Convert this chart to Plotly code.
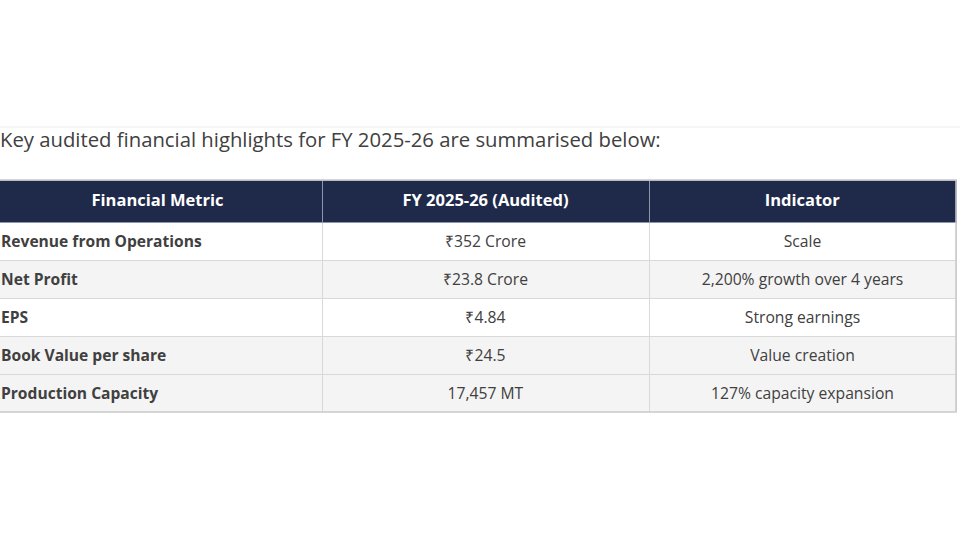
import plotly.graph_objects as go

# Table content
intro_text = "Key audited financial highlights for FY 2025-26 are summarised below:"
headers = ["Financial Metric", "FY 2025-26 (Audited)", "Indicator"]
metrics = [
    "Revenue from Operations",
    "Net Profit",
    "EPS",
    "Book Value per share",
    "Production Capacity",
]
fy_values = ["₹352 Crore", "₹23.8 Crore", "₹4.84", "₹24.5", "17,457 MT"]
indicators = [
    "Scale",
    "2,200% growth over 4 years",
    "Strong earnings",
    "Value creation",
    "127% capacity expansion",
]

FONT = "Open Sans"
HEADER_BG = "#1f2a4b"
TEXT = "#404040"
row_fill = ["#ffffff", "#f4f4f4", "#ffffff", "#f4f4f4", "#f4f4f4"]

SHIFT = 7         # figure is shifted left so the table's left edge is cropped like the source
W, H = 960 + SHIFT, 560
T_LEFT, T_RIGHT, T_TOP, T_BOT = 0, 956 + SHIFT, 180, 412

fig = go.Figure(
    go.Table(
        domain=dict(x=[T_LEFT / W, T_RIGHT / W], y=[1 - T_BOT / H, 1 - T_TOP / H]),
        columnwidth=[322 + SHIFT, 327, 307],
        header=dict(
            values=[f"<b>{h}</b>" for h in headers],
            fill_color=HEADER_BG,
            line=dict(color="#8e96ad", width=1),
            align="center",
            font=dict(family=FONT, size=16.5, color="white"),
            height=42,
        ),
        cells=dict(
            values=[[f"<b>{m}</b>" for m in metrics],
                    [f"<span>{v}</span>" for v in fy_values],
                    [f"<span>{v}</span>" for v in indicators]],
            fill_color=[row_fill] * 3,
            line=dict(color="#d9d9d9", width=1),
            align=["left", "center", "center"],
            font=dict(family=FONT, size=[15.6, 15.7, 15.7], color=TEXT),
            height=38,
        ),
    )
)

# outer border of the table
fig.add_shape(type="rect", xref="paper", yref="paper",
              x0=T_LEFT / W, x1=T_RIGHT / W, y0=1 - T_BOT / H, y1=1 - T_TOP / H,
              line=dict(color="#c9c9c9", width=1.5))

# faint rule above the intro sentence
fig.add_shape(type="line", xref="paper", yref="paper",
              x0=0, x1=1, y0=1 - 127 / H, y1=1 - 127 / H,
              line=dict(color="#ececec", width=1))

fig.add_annotation(
    text=intro_text, xref="paper", yref="paper",
    x=(SHIFT - 2) / W, y=1 - 139 / H, xanchor="left", yanchor="middle",
    showarrow=False, font=dict(family=FONT, size=20.3, color=TEXT),
)

fig.update_layout(
    width=W, height=H,
    margin=dict(l=0, r=0, t=0, b=0),
    paper_bgcolor="white",
)

fig.write_html(
    "out.html",
    config={"displayModeBar": False},
    post_script=(
        "document.body.style.margin='0';"
        "document.body.style.overflow='hidden';"
        f"document.getElementById('{{plot_id}}').style.marginLeft='-{SHIFT}px';"
    ),
)
